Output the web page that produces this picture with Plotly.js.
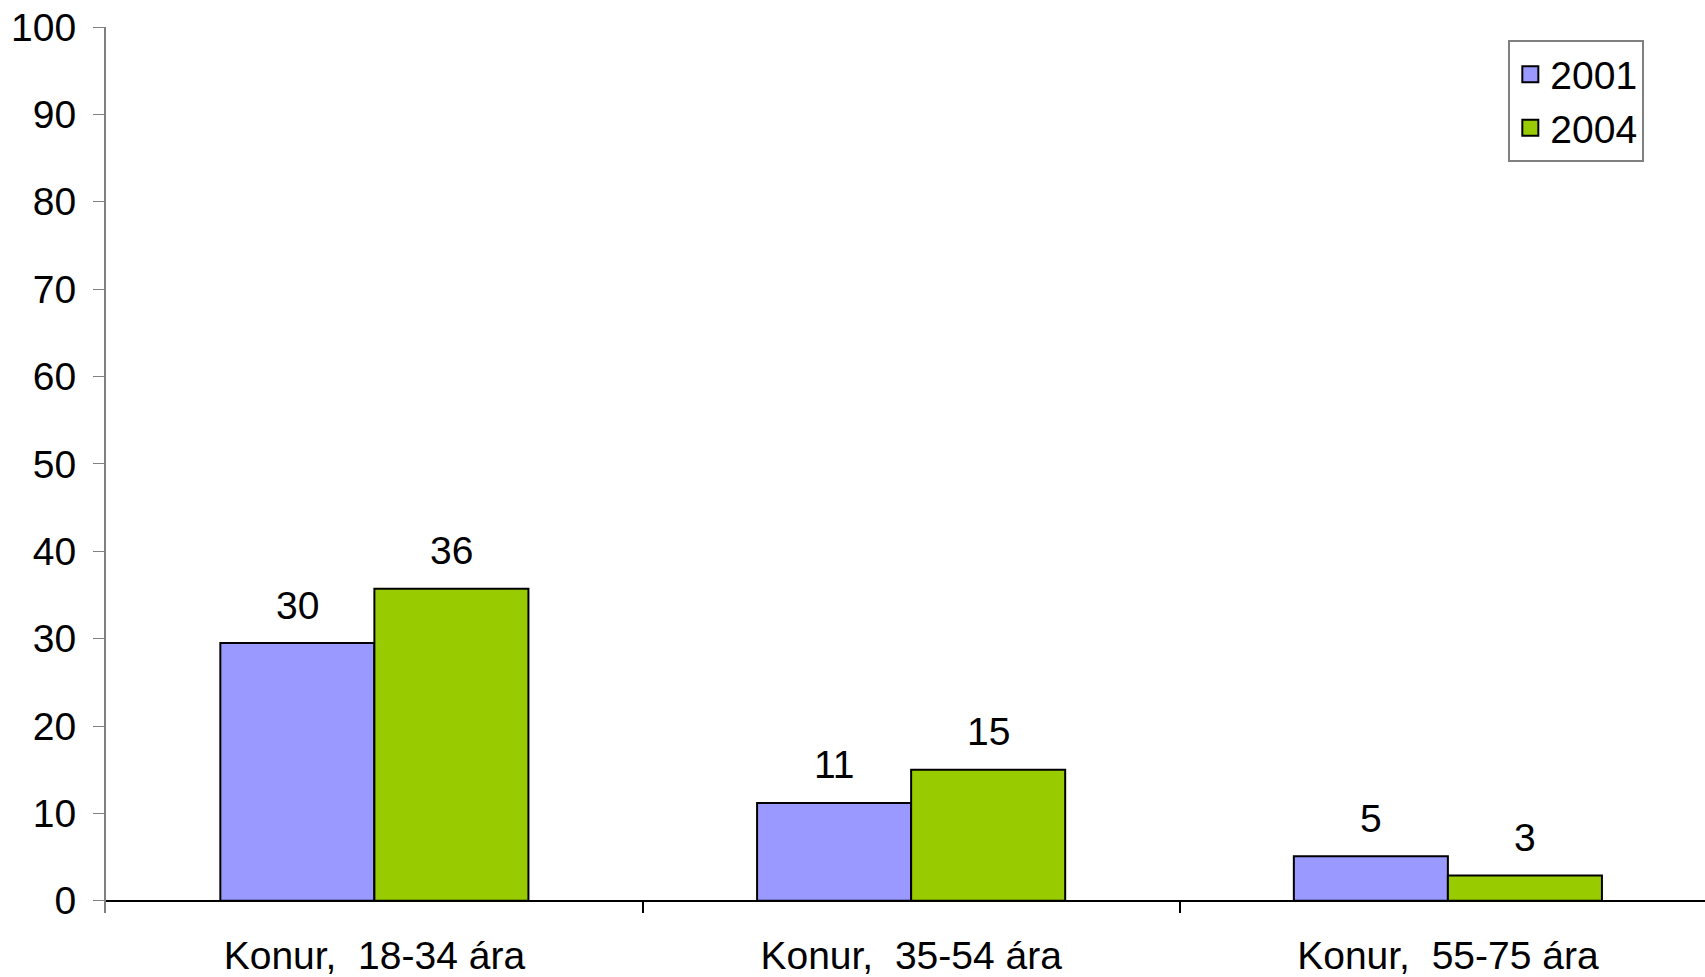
<!DOCTYPE html>
<html>
<head>
<meta charset="utf-8">
<script src="https://cdn.plot.ly/plotly-3.0.1.min.js"></script>
<style>
  html, body { margin: 0; padding: 0; background: #fff; }
  #chart { width: 1705px; height: 977px; }
</style>
</head>
<body>
<div id="chart"></div>
<script>
// categories and values
const categories = ['Konur,  18-34 ára', 'Konur,  35-54 ára', 'Konur,  55-75 ára'];
const years = ['2001', '2004'];
const values2001 = [29.5, 11.2, 5.1];
const values2004 = [35.7, 15.0, 2.9];

const colors = ['#9999ff', '#99cc00'];
const font = 'Liberation Sans, Arial, sans-serif';
const FS = 39;

const series = [values2001, values2004];

// bars (legend drawn by the marker traces below, for bigger squares)
const traces = series.map((vals, i) => ({
  type: 'bar',
  name: years[i],
  x: categories,
  y: vals,
  marker: { color: colors[i], line: { color: '#000', width: 2 } },
  showlegend: false,
  hoverinfo: 'x+y'
}));

series.forEach((vals, i) => {
  traces.push({
    type: 'scatter', mode: 'markers',
    name: years[i],
    x: [categories[0]], y: [null],
    marker: { symbol: 'square', size: 16, color: colors[i], line: { color: '#000', width: 2 } },
    hoverinfo: 'skip'
  });
});

// value labels above each bar
const barPx = 154;
const annotations = [];
series.forEach((vals, i) => {
  vals.forEach((v, j) => {
    annotations.push({
      x: categories[j], y: v, xref: 'x', yref: 'y',
      text: String(Math.round(v)),
      showarrow: false,
      xshift: (i === 0 ? -1 : 1) * barPx / 2,
      yanchor: 'middle', yshift: 38,
      font: { family: font, size: FS, color: '#000' }
    });
  });
});

const layout = {
  width: 1705, height: 977,
  paper_bgcolor: '#fff', plot_bgcolor: '#fff',
  font: { family: font, size: FS, color: '#000' },
  margin: { l: 106, r: 0, t: 27, b: 64 },
  barmode: 'group',
  bargap: 0.426,
  bargroupgap: 0,
  showlegend: true,
  legend: {
    x: 0.877, y: 0.985, xanchor: 'left', yanchor: 'top',
    bgcolor: '#fff', bordercolor: '#808080', borderwidth: 2,
    font: { family: font, size: FS, color: '#000' },
    itemwidth: 30, tracegroupgap: 0
  },
  annotations: annotations,
  xaxis: {
    type: 'category',
    range: [-0.5, 2.479],
    showline: false,
    showgrid: false,
    ticks: 'inside', tickson: 'boundaries',
    ticklen: 11.5, tickcolor: '#000', tickwidth: 2,
    ticklabelstandoff: 16,
    tickfont: { family: font, size: FS, color: '#000' }
  },
  yaxis: {
    range: [-1.4, 100],
    tick0: 0, dtick: 10,
    showgrid: false,
    showline: true, linecolor: '#808080', linewidth: 2,
    zeroline: true, zerolinecolor: '#000', zerolinewidth: 1.5,
    ticks: 'outside', ticklen: 11, tickcolor: '#808080', tickwidth: 1,
    ticklabelstandoff: 9,
    tickfont: { family: font, size: FS, color: '#000' }
  }
};

Plotly.newPlot('chart', traces, layout, { displayModeBar: false, staticPlot: true });
</script>
</body>
</html>
